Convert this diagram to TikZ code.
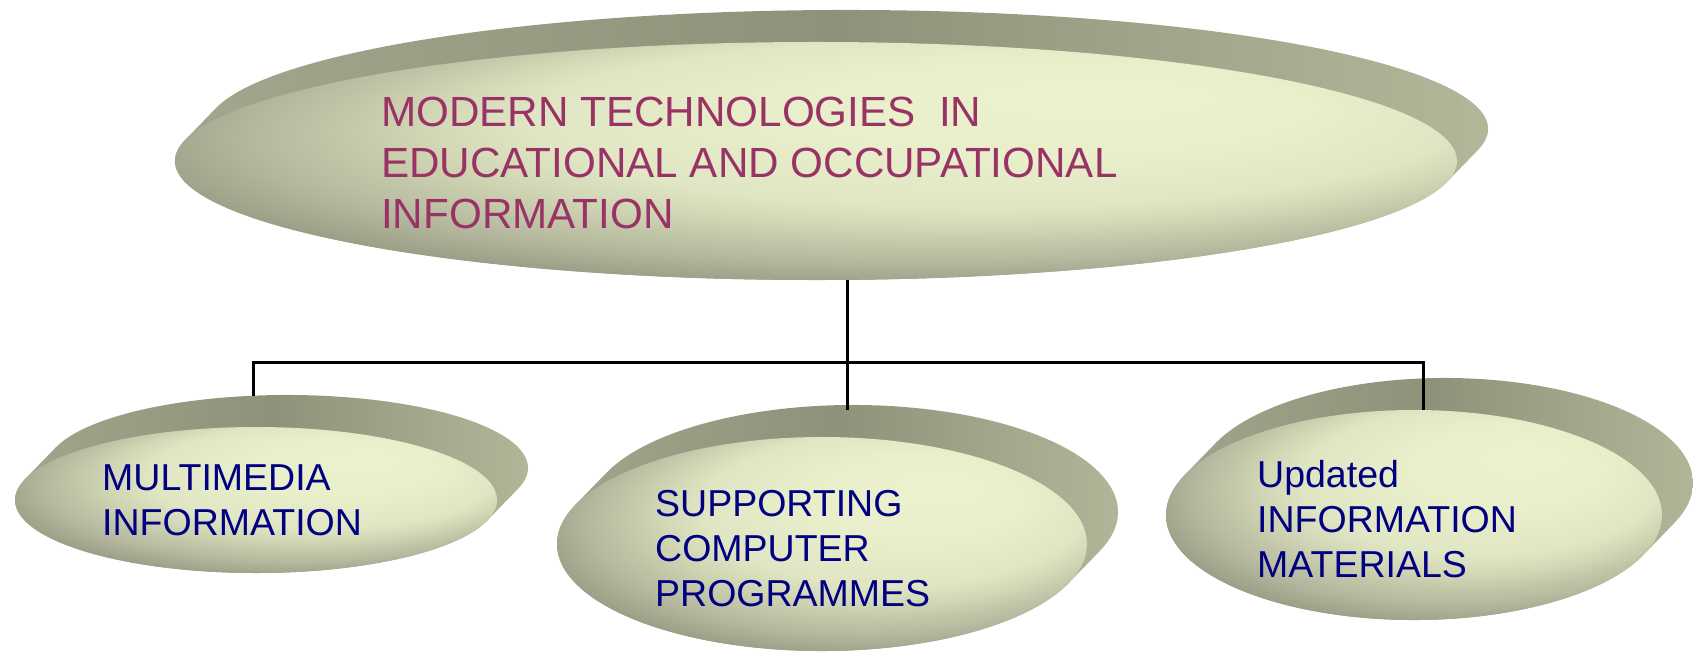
\documentclass[tikz,border=0pt]{standalone}
\usepackage{fontspec}
\usetikzlibrary{shapes.geometric,calc}
\newfontfamily\arialf{Liberation Sans}
\definecolor{faceA}{RGB}{236,242,206}
\definecolor{faceB}{RGB}{233,239,203}
\definecolor{faceC}{RGB}{224,229,195}
\definecolor{faceM}{RGB}{210,215,181}
\definecolor{faceN}{RGB}{180,183,157}
\definecolor{faceD}{RGB}{155,158,134}
\definecolor{faceE}{RGB}{140,143,121}
\definecolor{rimL}{RGB}{165,168,142}
\definecolor{rimM}{RGB}{143,146,122}
\definecolor{rimR}{RGB}{182,186,156}
\definecolor{titlecol}{RGB}{153,51,102}
\definecolor{itemcol}{RGB}{0,0,128}
\pgfdeclareradialshading{facerad}{\pgfpoint{12.5bp}{15bp}}{color(0bp)=(faceA); color(10bp)=(faceB); color(18bp)=(faceC); color(21bp)=(faceM); color(26.5bp)=(faceN); color(30bp)=(faceD); color(40bp)=(faceE)}
\newcommand{\mydisc}[5]{%
  \pgfmathsetmacro{\mydth}{atan(0.96875*#5/#4)}%
  \pgfmathsetmacro{\mytone}{180-\mydth}%
  \pgfmathsetmacro{\myttwo}{360-\mydth}%
  \pgfmathsetmacro{\mytthr}{-\mydth}%
  \path[rimshade] ([shift={(\mytone:#4pt and #5pt)}]#2pt,#3pt)
     arc[start angle=\mytone, end angle=\myttwo, x radius=#4pt, y radius=#5pt]
     -- ++(31pt,32pt)
     arc[start angle=\mytthr, end angle=\mytone, x radius=#4pt, y radius=#5pt] -- cycle;
  \node[facestyle, minimum width=2*#4pt, minimum height=2*#5pt] (#1) at (#2pt,#3pt) {};
  \node[backstyle, minimum width=2*#4pt, minimum height=2*#5pt] (#1back) at ([shift={(31pt,32pt)}]#1.center) {};
}
\begin{document}
\begin{tikzpicture}[x=1pt,y=1pt,
  rimshade/.style={shade, left color=rimL, right color=rimR, middle color=rimM},
  facestyle/.style={ellipse, inner sep=0pt, outer sep=0pt, shade, shading=facerad},
  backstyle/.style={ellipse, inner sep=0pt, outer sep=0pt},
  conn/.style={draw=black, line width=3pt},
  titletext/.style={anchor=north west, inner sep=0pt, align=left, text=titlecol,
    font=\arialf\fontsize{42.2}{51}\selectfont},
  itemtext/.style={anchor=north west, inner sep=0pt, align=left, text=itemcol,
    font=\arialf\fontsize{37.5}{45}\selectfont}]
\useasboundingbox (0,0) rectangle (1693,653);
\mydisc{big}{816}{492}{641}{119}
\mydisc{dleft}{256}{153}{241}{73}
\mydisc{dmid}{822}{109}{265}{107}
\mydisc{dright}{1414}{138}{248}{105}
\coordinate (hub) at (847,290);
\draw[conn] (big.south -| hub) -- ([yshift=-5pt]dmidback.north -| hub);
\draw[conn] (dleftback.115) |- (hub) -| (dright.85);
\node[titletext] (title) at (381,556) {MODERN TECHNOLOGIES\ \ IN\\EDUCATIONAL AND OCCUPATIONAL\\INFORMATION};
\node[itemtext] (t1) at (102,188) {MULTIMEDIA\\INFORMATION};
\node[itemtext] (t2) at (655,163) {SUPPORTING\\COMPUTER\\PROGRAMMES};
\node[itemtext] (t3) at (1257,193) {Updated\\INFORMATION\\MATERIALS};
\end{tikzpicture}
\end{document}
